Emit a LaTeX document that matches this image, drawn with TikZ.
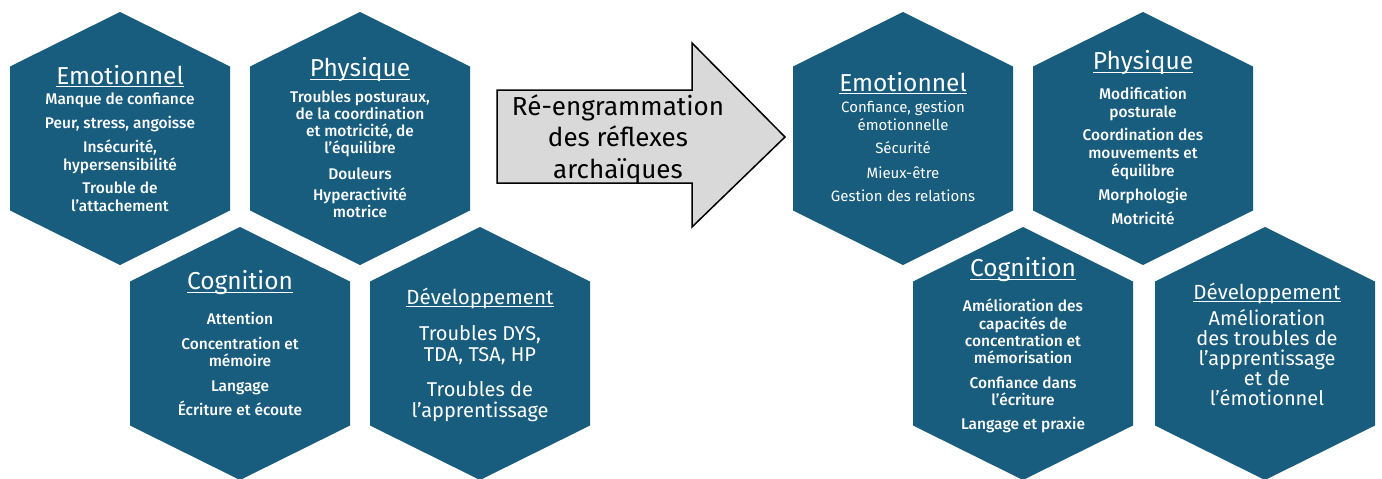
\documentclass[tikz,border=0pt]{standalone}
\usepackage{fontspec}
\setmainfont{Fira Sans}
\newfontfamily\medfont{Fira Sans Medium}
\newcommand\myul[1]{\setbox0\hbox{#1}\rlap{\rule[-3pt]{\wd0}{1pt}}\box0}
\definecolor{hexblue}{RGB}{24,92,126}
\definecolor{arrowgray}{RGB}{217,217,217}
\tikzset{
  hexfill/.style={fill=hexblue},
  hextitle/.style={text=white, font=\fontsize{24.5}{28}\selectfont, inner sep=0pt, anchor=center},
  devtitle/.style={text=white, font=\fontsize{20.5}{24}\selectfont, inner sep=0pt, anchor=center},
  itemsmed/.style={text=white, align=center, inner sep=0pt, anchor=north, font=\medfont\fontsize{15.5}{17.5}\selectfont},
  itemsreg/.style={text=white, align=center, inner sep=0pt, anchor=north, font=\fontsize{15}{17.5}\selectfont},
  itemsbig/.style={text=white, align=center, inner sep=0pt, anchor=north, font=\fontsize{20}{21.5}\selectfont},
  arrowshape/.style={fill=arrowgray, draw=black, line width=1.5pt, line join=miter},
  arrowtext/.style={text=black, align=center, inner sep=0pt, font=\fontsize{26}{31.5}\selectfont},
}
\newcommand\hexat[3]{%
  \fill[hexfill] (#2,#3) ++(0,-126.5) -- ++(110,54.5) -- ++(0,144) -- ++(-110,54.5) -- ++(-110,-54.5) -- ++(0,-144) -- cycle;
  \coordinate (#1) at (#2,#3);}
\begin{document}
\begin{tikzpicture}[x=1pt,y=-1pt]
\useasboundingbox (0,0) rectangle (1382,479);
\fill[white] (0,0) rectangle (1382,479);
% left group
\hexat{emoL}{120}{138.5}
\hexat{phyL}{360}{138.5}
\hexat{cogL}{240}{353.5}
\hexat{devL}{480}{353.5}
% right group
\hexat{emoR}{903}{138.5}
\hexat{phyR}{1143}{138.5}
\hexat{cogR}{1023}{353.5}
\hexat{devR}{1265}{353.5}
% arrow
\draw[arrowshape] (497,90) -- (692,90) -- (692,43) -- (785,137) -- (692,227) -- (692,183) -- (497,183) -- cycle;
\node[arrowtext] (arrowlabel) at (618,139) {Ré-engrammation\\des réflexes\\archaïques};
% left texts
\node[hextitle] (emoLt) at (120,76) {\myul{Emotionnel}};
\node[itemsmed, font=\medfont\fontsize{15.5}{18}\selectfont] (emoLi) at (120,93) {Manque de confiance\\[6pt]Peur, stress, angoisse\\[6pt]Insécurité,\\hypersensibilité\\[5pt]Trouble de\\l’attachement};
\node[hextitle] (phyLt) at (360,70) {\myul{Physique}};
\node[itemsmed, font=\medfont\fontsize{15.5}{16.8}\selectfont] (phyLi) at (360,91) {Troubles posturaux,\\de la coordination\\et motricité, de\\l’équilibre\\[9pt]Douleurs\\[5pt]Hyperactivité\\motrice};
\node[hextitle] (cogLt) at (240,283) {\myul{Cognition}};
\node[itemsmed] (cogLi) at (240,312) {Attention\\[7pt]Concentration et\\mémoire\\[7pt]Langage\\[6pt]Écriture et écoute};
\node[devtitle] (devLt) at (480,298) {\myul{Développement}};
\node[itemsbig] (devLi) at (480,325) {Troubles DYS,\\TDA, TSA, HP\\[13pt]Troubles de\\l’apprentissage};
% right texts
\node[hextitle] (emoRt) at (903,83) {\myul{Emotionnel}};
\node[itemsreg] (emoRi) at (903,101) {Confiance, gestion\\émotionnelle\\[6pt]Sécurité\\[7pt]Mieux-être\\[6pt]Gestion des relations};
\node[hextitle] (phyRt) at (1143,63) {\myul{Physique}};
\node[itemsmed, font=\medfont\fontsize{15.5}{18}\selectfont] (phyRi) at (1143,87) {Modification\\posturale\\[5pt]Coordination des\\mouvements et\\équilibre\\[6pt]Morphologie\\[6pt]Motricité};
\node[hextitle] (cogRt) at (1023,270) {\myul{Cognition}};
\node[itemsmed, font=\medfont\fontsize{15.5}{17.3}\selectfont] (cogRi) at (1023,299) {Amélioration des\\capacités de\\concentration et\\mémorisation\\[7.5pt]Confiance dans\\l’écriture\\[6.5pt]Langage et praxie};
\node[devtitle] (devRt) at (1267,293) {\myul{Développement}};
\node[itemsbig, font=\fontsize{20}{20}\selectfont] (devRi) at (1267,309.5) {Amélioration\\des troubles de\\l’apprentissage\\et de\\l’émotionnel};
\end{tikzpicture}
\end{document}
